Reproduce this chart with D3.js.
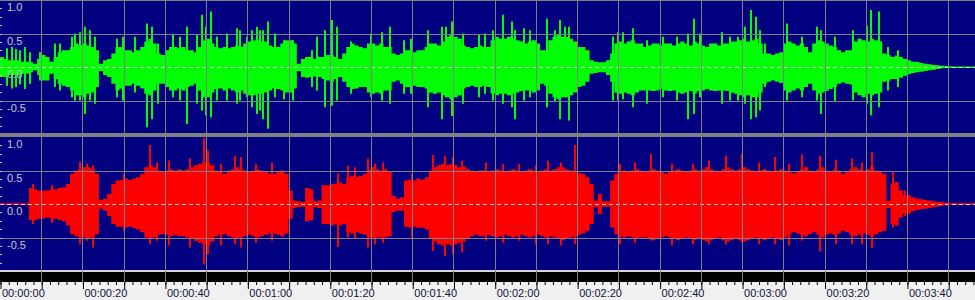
<!DOCTYPE html>
<html>
<head>
<meta charset="utf-8">
<style>
body, html {
  margin: 0;
  padding: 0;
  background: #f0f0f0;
}
svg { display: block; }
.ylab {
  font-family: "Liberation Sans", Arial, sans-serif;
  font-size: 11px;
  fill: #c8c8c8;
}
.taxis text {
  font-family: "Liberation Sans", Arial, sans-serif;
  font-size: 11px;
  fill: #101040;
}
.taxis line { stroke: #000; }
</style>
<script src="https://d3js.org/d3.v7.min.js"></script>
</head>
<body>
<div id="chart"></div>
<script>

// waveform envelope, one value per second (0..236 s)
var leftHi = [
  0.15,0.12,0.10,0.10,0.10,0.08,0.08,0.07,0.05,0.12,
  0.18,0.15,0.08,0.15,0.22,0.25,0.25,0.30,0.35,0.33,
  0.35,0.32,0.30,0.25,0.05,0.10,0.12,0.20,0.30,0.30,
  0.25,0.25,0.22,0.25,0.30,0.38,0.42,0.35,0.20,0.18,
  0.25,0.30,0.30,0.28,0.30,0.25,0.25,0.22,0.30,0.40,
  0.42,0.35,0.30,0.28,0.30,0.28,0.30,0.32,0.30,0.35,
  0.38,0.40,0.40,0.38,0.38,0.32,0.30,0.30,0.35,0.40,
  0.40,0.35,0.05,0.12,0.15,0.15,0.12,0.15,0.15,0.18,
  0.18,0.15,0.12,0.20,0.30,0.35,0.32,0.30,0.28,0.35,
  0.35,0.32,0.35,0.30,0.30,0.20,0.18,0.20,0.25,0.25,
  0.22,0.25,0.25,0.30,0.35,0.35,0.32,0.38,0.45,0.48,
  0.45,0.42,0.32,0.30,0.28,0.30,0.32,0.30,0.30,0.40,
  0.45,0.42,0.42,0.45,0.42,0.40,0.38,0.35,0.38,0.40,
  0.35,0.25,0.25,0.40,0.45,0.48,0.45,0.45,0.42,0.38,
  0.30,0.30,0.25,0.10,0.08,0.07,0.07,0.10,0.20,0.35,
  0.38,0.35,0.38,0.40,0.35,0.35,0.30,0.32,0.35,0.35,
  0.32,0.35,0.35,0.32,0.35,0.38,0.35,0.32,0.38,0.35,
  0.32,0.30,0.35,0.35,0.32,0.35,0.35,0.38,0.38,0.40,
  0.42,0.38,0.40,0.42,0.35,0.20,0.20,0.18,0.20,0.22,
  0.35,0.38,0.35,0.32,0.35,0.30,0.22,0.35,0.40,0.38,
  0.35,0.32,0.30,0.25,0.22,0.25,0.25,0.38,0.42,0.40,
  0.38,0.42,0.40,0.38,0.20,0.18,0.15,0.17,0.15,0.12,
  0.10,0.08,0.08,0.06,0.05,0.04,0.03,0.025,0.02,0.015,
  0.01,0.008,0.008,0.008,0.008,0.008,0.008];

var leftLo = [
  -0.15,-0.15,-0.12,-0.12,-0.12,-0.10,-0.10,-0.08,-0.05,-0.12,
  -0.20,-0.20,-0.10,-0.18,-0.25,-0.28,-0.30,-0.35,-0.42,-0.42,
  -0.45,-0.40,-0.38,-0.30,-0.06,-0.12,-0.15,-0.25,-0.35,-0.32,
  -0.28,-0.28,-0.25,-0.28,-0.32,-0.40,-0.42,-0.35,-0.25,-0.25,
  -0.30,-0.35,-0.35,-0.32,-0.35,-0.30,-0.28,-0.25,-0.35,-0.45,
  -0.45,-0.38,-0.33,-0.32,-0.35,-0.32,-0.35,-0.38,-0.35,-0.40,
  -0.42,-0.42,-0.40,-0.40,-0.38,-0.35,-0.32,-0.33,-0.35,-0.38,
  -0.38,-0.32,-0.06,-0.15,-0.16,-0.15,-0.14,-0.15,-0.18,-0.20,
  -0.22,-0.18,-0.15,-0.22,-0.30,-0.33,-0.32,-0.30,-0.30,-0.38,
  -0.40,-0.38,-0.40,-0.35,-0.35,-0.22,-0.20,-0.25,-0.30,-0.30,
  -0.28,-0.30,-0.30,-0.32,-0.38,-0.40,-0.38,-0.42,-0.45,-0.48,
  -0.45,-0.42,-0.32,-0.30,-0.28,-0.30,-0.30,-0.28,-0.30,-0.40,
  -0.42,-0.40,-0.40,-0.42,-0.40,-0.38,-0.36,-0.35,-0.35,-0.38,
  -0.35,-0.25,-0.28,-0.40,-0.45,-0.48,-0.45,-0.45,-0.42,-0.38,
  -0.30,-0.28,-0.22,-0.10,-0.09,-0.08,-0.08,-0.12,-0.22,-0.38,
  -0.40,-0.38,-0.40,-0.42,-0.38,-0.35,-0.35,-0.35,-0.36,-0.35,
  -0.33,-0.35,-0.36,-0.35,-0.38,-0.40,-0.38,-0.36,-0.40,-0.36,
  -0.35,-0.33,-0.35,-0.36,-0.35,-0.35,-0.36,-0.38,-0.40,-0.42,
  -0.45,-0.42,-0.45,-0.45,-0.38,-0.25,-0.22,-0.20,-0.22,-0.24,
  -0.35,-0.38,-0.35,-0.32,-0.35,-0.30,-0.25,-0.35,-0.40,-0.38,
  -0.36,-0.33,-0.30,-0.25,-0.23,-0.25,-0.26,-0.38,-0.42,-0.45,
  -0.40,-0.42,-0.40,-0.38,-0.22,-0.20,-0.18,-0.18,-0.16,-0.13,
  -0.11,-0.09,-0.08,-0.07,-0.06,-0.05,-0.04,-0.03,-0.02,-0.015,
  -0.01,-0.008,-0.008,-0.008,-0.008,-0.008,-0.008];

var rightHi = [
  0.01,0.01,0.01,0.01,0.01,0.01,0.01,0.24,0.22,0.20,
  0.20,0.20,0.22,0.22,0.24,0.25,0.30,0.45,0.50,0.52,
  0.55,0.55,0.52,0.45,0.06,0.08,0.15,0.30,0.35,0.36,
  0.38,0.36,0.38,0.40,0.45,0.55,0.58,0.55,0.50,0.48,
  0.50,0.52,0.50,0.52,0.50,0.52,0.55,0.58,0.60,0.62,
  0.62,0.58,0.50,0.48,0.45,0.50,0.52,0.55,0.52,0.50,
  0.48,0.50,0.52,0.50,0.48,0.45,0.45,0.48,0.50,0.45,
  0.20,0.05,0.04,0.03,0.24,0.22,0.04,0.05,0.28,0.28,
  0.30,0.30,0.32,0.30,0.40,0.42,0.40,0.42,0.45,0.52,
  0.55,0.52,0.50,0.52,0.48,0.12,0.08,0.10,0.35,0.36,
  0.35,0.38,0.36,0.40,0.50,0.55,0.58,0.60,0.58,0.60,
  0.58,0.55,0.56,0.52,0.50,0.48,0.50,0.50,0.48,0.50,
  0.52,0.50,0.48,0.50,0.52,0.50,0.48,0.50,0.52,0.50,
  0.48,0.50,0.52,0.50,0.52,0.55,0.55,0.52,0.50,0.48,
  0.46,0.45,0.40,0.30,0.05,0.15,0.04,0.04,0.35,0.45,
  0.48,0.50,0.48,0.50,0.52,0.50,0.48,0.50,0.52,0.50,
  0.48,0.45,0.48,0.50,0.52,0.50,0.48,0.50,0.52,0.50,
  0.52,0.55,0.52,0.50,0.48,0.52,0.55,0.52,0.50,0.52,
  0.55,0.52,0.50,0.48,0.50,0.52,0.50,0.48,0.50,0.52,
  0.50,0.48,0.46,0.48,0.52,0.55,0.50,0.48,0.52,0.55,
  0.50,0.48,0.52,0.50,0.45,0.48,0.52,0.55,0.52,0.50,
  0.52,0.55,0.50,0.48,0.45,0.05,0.30,0.33,0.20,0.13,
  0.13,0.10,0.08,0.07,0.06,0.05,0.04,0.03,0.03,0.02,
  0.01,0.01,0.01,0.01,0.01,0.01,0.01];

var rightLo = [
  -0.01,-0.01,-0.01,-0.01,-0.01,-0.01,-0.01,-0.24,-0.24,-0.22,
  -0.22,-0.20,-0.22,-0.22,-0.24,-0.26,-0.32,-0.45,-0.48,-0.50,
  -0.50,-0.52,-0.50,-0.45,-0.07,-0.10,-0.18,-0.30,-0.34,-0.34,
  -0.35,-0.34,-0.36,-0.38,-0.42,-0.50,-0.52,-0.50,-0.46,-0.45,
  -0.46,-0.48,-0.46,-0.48,-0.48,-0.50,-0.52,-0.55,-0.58,-0.60,
  -0.62,-0.56,-0.48,-0.46,-0.45,-0.48,-0.50,-0.52,-0.50,-0.48,
  -0.46,-0.48,-0.50,-0.48,-0.46,-0.44,-0.44,-0.46,-0.48,-0.44,
  -0.22,-0.06,-0.05,-0.04,-0.26,-0.24,-0.05,-0.06,-0.30,-0.30,
  -0.32,-0.30,-0.32,-0.30,-0.42,-0.44,-0.42,-0.44,-0.46,-0.50,
  -0.52,-0.50,-0.50,-0.50,-0.48,-0.12,-0.10,-0.10,-0.34,-0.35,
  -0.34,-0.36,-0.35,-0.38,-0.52,-0.56,-0.60,-0.62,-0.60,-0.62,
  -0.60,-0.58,-0.56,-0.52,-0.48,-0.46,-0.48,-0.48,-0.46,-0.48,
  -0.50,-0.48,-0.46,-0.48,-0.50,-0.48,-0.46,-0.48,-0.50,-0.48,
  -0.46,-0.48,-0.50,-0.48,-0.50,-0.52,-0.54,-0.52,-0.50,-0.48,
  -0.46,-0.44,-0.40,-0.30,-0.05,-0.15,-0.04,-0.04,-0.35,-0.45,
  -0.48,-0.50,-0.48,-0.50,-0.52,-0.50,-0.50,-0.52,-0.54,-0.52,
  -0.50,-0.48,-0.50,-0.52,-0.54,-0.52,-0.50,-0.52,-0.54,-0.52,
  -0.54,-0.56,-0.54,-0.52,-0.50,-0.54,-0.56,-0.54,-0.52,-0.54,
  -0.56,-0.54,-0.52,-0.50,-0.52,-0.54,-0.52,-0.50,-0.52,-0.54,
  -0.50,-0.46,-0.42,-0.44,-0.46,-0.48,-0.45,-0.42,-0.46,-0.50,
  -0.46,-0.44,-0.46,-0.44,-0.40,-0.42,-0.46,-0.48,-0.46,-0.44,
  -0.46,-0.48,-0.45,-0.42,-0.40,-0.06,-0.30,-0.32,-0.20,-0.15,
  -0.14,-0.11,-0.09,-0.08,-0.07,-0.06,-0.05,-0.04,-0.03,-0.02,
  -0.01,-0.01,-0.01,-0.01,-0.01,-0.01,-0.01];

// single peaks sticking out of the envelope: [seconds, max, min]
var leftPeaks = [
  [1.6,0.28,-0.28],[2.8,0.3,-0.32],[4.0,0.27,-0.3],[4.9,0.25,-0.26],[6.0,0.3,-0.33],[7.3,0.22,-0.25],
  [9.7,0.22,-0.2],[13.3,0.35,-0.3],[14.6,0.35,-0.35],[17.4,0.45,-0.45],[18.2,0.5,-0.5],
  [19.4,0.52,-0.5],[20.6,0.6,-0.7],[21.8,0.55,-0.5],[23.0,0.45,-0.55],[28.3,0.42,-0.45],
  [29.9,0.45,-0.5],[32.8,0.45,-0.38],[35.6,0.65,-0.9],[36.8,0.6,-0.78],[38.4,0.35,-0.55],
  [42.0,0.48,-0.45],[43.7,0.45,-0.5],[45.3,0.6,-0.85],[47.7,0.48,-0.55],[48.9,0.78,-0.65],
  [50.0,0.6,-0.72],[51.1,0.83,-0.75],[52.6,0.45,-0.5],[55.0,0.5,-0.5],[57.6,0.58,-0.55],
  [58.2,0.55,-0.5],[59.8,0.45,-0.45],[61.1,0.55,-0.6],[62.3,0.6,-0.7],[63.0,0.55,-0.65],
  [63.9,0.55,-0.78],[64.9,0.68,-0.92],[66.7,0.5,-0.45],[69.0,0.4,-0.48],[71.1,0.4,-0.5],
  [75.6,0.25,-0.3],[76.8,0.45,-0.35],[78.8,0.55,-0.6],[80.6,0.7,-0.58],[81.7,0.6,-0.5],
  [85.2,0.38,-0.4],[90.0,0.5,-0.45],[92.6,0.52,-0.5],[94.5,0.6,-0.55],[98.0,0.4,-0.4],
  [99.6,0.42,-0.4],[103.9,0.55,-0.6],[107.3,0.6,-0.78],[108.3,0.6,-0.45],[109.7,0.68,-0.73],
  [112.4,0.5,-0.55],[116.1,0.48,-0.45],[117.7,0.5,-0.4],[119.7,0.55,-0.5],[122.1,0.78,-0.55],
  [124.1,0.68,-0.6],[124.9,0.55,-0.78],[127.0,0.58,-0.5],[128.6,0.55,-0.45],[132.6,0.72,-0.6],
  [134.6,0.55,-0.52],[135.9,0.7,-0.78],[137.1,0.6,-0.45],[137.9,0.6,-0.8],[148.8,0.45,-0.5],
  [150.0,0.52,-0.5],[151.2,0.52,-0.48],[153.6,0.58,-0.6],[156.9,0.4,-0.55],[160.9,0.45,-0.45],
  [164.2,0.45,-0.5],[167.0,0.5,-0.78],[168.4,0.72,-0.7],[169.9,0.5,-0.45],[175.1,0.52,-0.55],
  [177.1,0.45,-0.5],[179.1,0.45,-0.5],[180.7,0.6,-0.55],[182.2,0.85,-0.78],[183.3,0.75,-0.75],
  [184.4,0.55,-0.65],[185.6,0.35,-0.3],[190.8,0.65,-0.5],[194.5,0.45,-0.45],[198.1,0.6,-0.5],
  [199.2,0.55,-0.7],[202.6,0.45,-0.52],[207.0,0.55,-0.5],[210.2,0.62,-0.55],[211.3,0.85,-0.72],
  [213.3,0.83,-0.6],[215.4,0.3,-0.35],[217.8,0.25,-0.3]];

var rightPeaks = [
  [8.0,0.3,-0.3],[12.5,0.28,-0.28],[19.5,0.63,-0.6],[21.0,0.6,-0.55],[22.5,0.58,-0.65],
  [30.0,0.45,-0.4],[36.5,0.88,-0.6],[38.0,0.62,-0.55],[41.0,0.65,-0.62],[46.0,0.68,-0.65],
  [49.5,0.98,-0.9],[50.5,0.8,-0.75],[53.5,0.6,-0.62],[57.0,0.72,-0.6],[58.5,0.7,-0.65],
  [62.0,0.6,-0.58],[66.0,0.62,-0.55],[82.0,0.46,-0.64],[84.5,0.57,-0.5],[86.0,0.55,-0.52],
  [89.3,0.68,-0.65],[91.0,0.6,-0.6],[93.0,0.62,-0.58],[100.0,0.45,-0.5],[105.0,0.73,-0.7],
  [108.0,0.72,-0.78],[110.0,0.7,-0.75],[112.0,0.65,-0.72],[118.0,0.62,-0.55],[122.0,0.6,-0.58],
  [126.0,0.6,-0.55],[130.0,0.58,-0.6],[133.0,0.65,-0.6],[136.0,0.62,-0.62],[139.5,0.88,-0.6],
  [150.5,0.6,-0.6],[154.0,0.62,-0.58],[158.0,0.75,-0.55],[163.0,0.6,-0.62],[168.0,0.6,-0.6],
  [172.0,0.65,-0.6],[176.0,0.72,-0.6],[180.0,0.75,-0.58],[184.0,0.62,-0.6],[188.0,0.7,-0.6],
  [191.5,0.6,-0.62],[194.5,0.74,-0.55],[198.9,0.72,-0.71],[202.8,0.66,-0.6],[206.6,0.68,-0.6],
  [209.0,0.62,-0.6],[211.5,0.78,-0.66],[214.7,0.26,-0.4],[216.7,0.48,-0.35],[219.5,0.2,-0.18]];

var yTicks = [1.0, 0.5, 0.0, -0.5];
var yLabels = ["1.0", "0.5", "0.0", "-0.5"];
var labelTimes = [0, 20, 40, 60, 80, 100, 120, 140, 160, 180, 200, 220];
var timeLabels = ["00:00:00", "00:00:20", "00:00:40", "00:01:00", "00:01:20", "00:01:40",
                  "00:02:00", "00:02:20", "00:02:40", "00:03:00", "00:03:20", "00:03:40"];

//==========================================
var width = 975,
    height = 300,
    duration = 236.5;

var x = d3.scaleLinear().domain([0, duration]).range([0, width]);

var svg = d3.select("#chart").append("svg")
    .attr("width", width)
    .attr("height", height);

// background pieces
svg.append("rect").attr("x", 0).attr("y", 0).attr("width", width).attr("height", 271)
    .attr("fill", "#000080");
svg.append("rect").attr("x", 0).attr("y", 270).attr("width", width).attr("height", 2)
    .attr("fill", "#d4d4d4");
svg.append("rect").attr("x", 0).attr("y", 272).attr("width", width).attr("height", 10)
    .attr("fill", "#000");
svg.append("rect").attr("x", 0).attr("y", 282).attr("width", width).attr("height", 18)
    .attr("fill", "#f0f0f0");

var panels = [
  {hi: leftHi, lo: leftLo, peaks: leftPeaks, color: "#00ff00", top: 0, bottom: 134},
  {hi: rightHi, lo: rightLo, peaks: rightPeaks, color: "#ff0000", top: 137, bottom: 271}
];

panels.forEach(function(p) {
  var y = d3.scaleLinear().domain([-1, 1]).range([p.bottom, p.top]);
  var g = svg.append("g");

  var rows = p.hi.map(function(v, i) { return {t: i, hi: v, lo: p.lo[i]}; });
  var last = rows[rows.length - 1];
  rows.push({t: duration, hi: last.hi, lo: last.lo});

  // zero level trace
  g.append("line")
      .attr("x1", 0).attr("x2", width)
      .attr("y1", Math.round(y(0)) + 0.5).attr("y2", Math.round(y(0)) + 0.5)
      .attr("stroke", p.color);

  var area = d3.area()
      .x(function(d) { return x(d.t); })
      .y0(function(d) { return y(d.lo); })
      .y1(function(d) { return y(d.hi); })
      .curve(d3.curveStepAfter);

  g.append("path")
      .datum(rows)
      .attr("fill", p.color)
      .attr("d", area);

  g.selectAll("line.peak")
    .data(p.peaks)
    .enter().append("line")
      .attr("class", "peak")
      .attr("x1", function(d) { return Math.round(x(d[0])); })
      .attr("x2", function(d) { return Math.round(x(d[0])); })
      .attr("y1", function(d) { return y(d[1]); })
      .attr("y2", function(d) { return y(d[2]); })
      .attr("stroke", p.color)
      .attr("stroke-width", 2);

  // horizontal grid at +-0.5
  g.selectAll("line.hgrid")
    .data([0.5, -0.5])
    .enter().append("line")
      .attr("x1", 0).attr("x2", width)
      .attr("y1", function(d) { return Math.round(y(d)) + 0.5; })
      .attr("y2", function(d) { return Math.round(y(d)) + 0.5; })
      .attr("stroke", "#808080");

  // dashed centre line
  g.append("line")
      .attr("x1", 0).attr("x2", width)
      .attr("y1", Math.round(y(0)) + 0.5).attr("y2", Math.round(y(0)) + 0.5)
      .attr("stroke", "#d8d8d8")
      .attr("stroke-dasharray", "4,3");

  // small marks on the left edge
  g.selectAll("line.ymark")
    .data(d3.range(-7, 8).map(function(k) { return k / 8; }))
    .enter().append("line")
      .attr("x1", 0).attr("x2", 2)
      .attr("y1", function(d) { return Math.round(y(d)) + 0.5; })
      .attr("y2", function(d) { return Math.round(y(d)) + 0.5; })
      .attr("stroke", "#c8c8c8");

  g.selectAll("text.ylab")
    .data(yTicks)
    .enter().append("text")
      .attr("class", "ylab")
      .attr("x", 7)
      .attr("y", function(d) { return y(d) + 11; })
      .text(function(d, i) { return yLabels[i]; });
});

// separator between channels and top border
svg.append("rect").attr("x", 0).attr("y", 133).attr("width", width).attr("height", 4)
    .attr("fill", "#808080");
svg.append("rect").attr("x", 0).attr("y", 0).attr("width", width).attr("height", 1)
    .attr("fill", "#808080");

// vertical grid every 10 s
svg.selectAll("line.vgrid")
  .data(d3.range(10, duration, 10))
  .enter().append("line")
    .attr("x1", function(d) { return Math.round(x(d)) + 0.5; })
    .attr("x2", function(d) { return Math.round(x(d)) + 0.5; })
    .attr("y1", 0).attr("y2", 282)
    .attr("stroke", "#808080");

// time axis
var minor = d3.axisBottom(x)
    .tickValues(d3.range(0, duration, 2))
    .tickSize(3)
    .tickFormat("");
svg.append("g")
    .attr("class", "taxis")
    .attr("transform", "translate(0.5,282)")
    .call(minor)
    .call(function(g) { g.select(".domain").remove(); });

var major = d3.axisBottom(x)
    .tickValues(d3.range(0, duration, 10))
    .tickSize(7)
    .tickFormat(function(d) {
      var i = labelTimes.indexOf(d);
      return i < 0 ? "" : timeLabels[i];
    });
svg.append("g")
    .attr("class", "taxis")
    .attr("transform", "translate(0.5,282)")
    .call(major)
    .call(function(g) {
      g.select(".domain").remove();
      g.selectAll("text")
        .attr("text-anchor", "start")
        .attr("x", 1)
        .attr("y", 15)
        .attr("dy", null);
    });

</script>
</body>
</html>
